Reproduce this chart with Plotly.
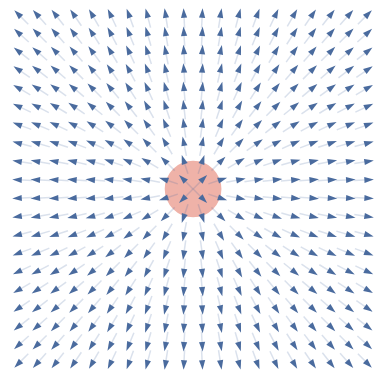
import math
import plotly.graph_objects as go

# Sample points of the field grid (20 x 20), in grid units
grid_x = [-9.5, -8.5, -7.5, -6.5, -5.5, -4.5, -3.5, -2.5, -1.5, -0.5,
          0.5, 1.5, 2.5, 3.5, 4.5, 5.5, 6.5, 7.5, 8.5, 9.5]
grid_y = [-9.5, -8.5, -7.5, -6.5, -5.5, -4.5, -3.5, -2.5, -1.5, -0.5,
          0.5, 1.5, 2.5, 3.5, 4.5, 5.5, 6.5, 7.5, 8.5, 9.5]

# Point charge at the origin
charge_x = 0.0
charge_y = 0.0
charge_radius = 1.55

shaft_back = 0.7     # shaft extends inward from the sample point
tip_fwd = 0.38       # arrow tip sits slightly outward of the sample point

line_x, line_y = [], []
tip_x, tip_y, tip_angle = [], [], []
for gy in grid_y:
    for gx in grid_x:
        dx, dy = gx - charge_x, gy - charge_y
        r = math.hypot(dx, dy)
        ux, uy = dx / r, dy / r
        line_x += [gx - shaft_back * ux, gx + 0.1 * ux, None]
        line_y += [gy - shaft_back * uy, gy + 0.1 * uy, None]
        tip_x.append(gx + tip_fwd * ux)
        tip_y.append(gy + tip_fwd * uy)
        tip_angle.append(math.degrees(math.atan2(ux, uy)))

fig = go.Figure()
fig.add_trace(go.Scatter(
    x=line_x, y=line_y, mode="lines",
    line=dict(color="rgba(70,105,160,0.2)", width=1.5),
    hoverinfo="skip", showlegend=False,
))
fig.add_trace(go.Scatter(
    x=tip_x, y=tip_y, mode="markers",
    marker=dict(symbol="arrow", size=10, angle=tip_angle,
                color="#4a6b9e", line=dict(width=0)),
    hoverinfo="skip", showlegend=False,
))

fig.add_shape(
    type="circle", xref="x", yref="y", layer="below",
    x0=charge_x - charge_radius, x1=charge_x + charge_radius,
    y0=charge_y - charge_radius, y1=charge_y + charge_radius,
    fillcolor="rgb(239,178,168)", line=dict(width=0),
)

fig.update_layout(
    width=377, height=378,
    margin=dict(l=0, r=0, t=0, b=0),
    paper_bgcolor="white", plot_bgcolor="white",
    xaxis=dict(range=[-10.55, 10.05], visible=False, fixedrange=True),
    yaxis=dict(range=[-10.33, 10.33], visible=False, fixedrange=True),
)

fig.write_html("out.html")
